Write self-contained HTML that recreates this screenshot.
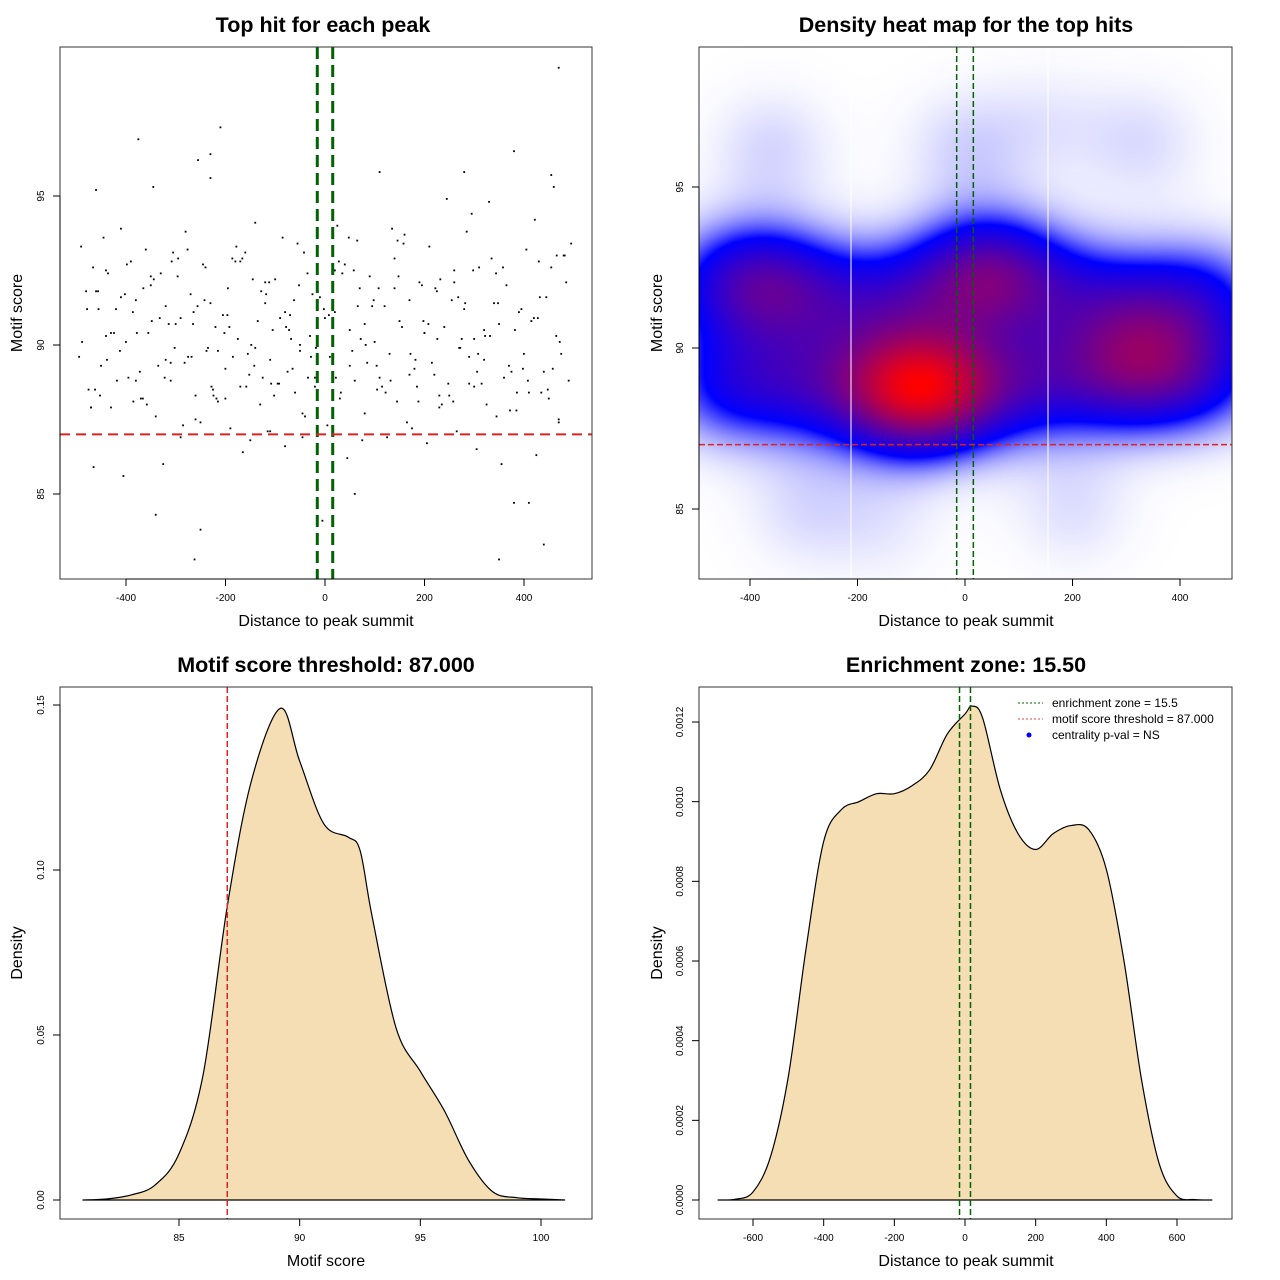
<!DOCTYPE html>
<html><head><meta charset="utf-8">
<style>
html,body{margin:0;padding:0;background:#fff;}
#wrap{position:relative;width:1280px;height:1280px;font-family:"Liberation Sans",sans-serif;}
#heat{position:absolute;left:699px;top:47px;}
svg{position:absolute;left:0;top:0;}
</style></head>
<body>
<div id="wrap">
<canvas id="heat" width="533" height="532"></canvas>
<svg id="svg" width="1280" height="1280" xmlns="http://www.w3.org/2000/svg"></svg>
</div>
<script>
// ---------- data ----------
const scatterX = [-490,-480,-475,-470,-465,-460,-455,-450,-445,-440,-430,-420,-410,-400,-395,-390,-380,-375,-370,-360,-355,-350,-345,-340,-330,-325,-320,-310,-300,-295,-290,-280,-275,-270,-260,-255,-250,-240,-235,-230,-220,-215,-210,-200,-195,-190,-180,-175,-170,-160,-155,-150,-140,-135,-130,-120,-115,-110,-100,-95,-90,-80,-75,-70,-60,-55,-50,-40,-35,-30,-20,-10,-5,5,10,20,25,30,40,45,50,60,65,70,80,85,90,100,105,110,120,125,130,140,145,150,160,165,170,180,185,190,200,205,210,220,225,230,240,245,250,260,265,270,280,285,290,300,305,310,320,325,330,340,345,350,360,365,370,380,385,390,400,405,410,420,425,430,440,445,450,460,465,470,480,485,490,-485,-460,-430,-405,-385,-365,-335,-305,-285,-265,-245,-225,-205,-185,-165,-145,-125,-105,-85,-65,-45,-25,-15,15,35,55,75,95,115,135,155,175,195,215,235,255,275,295,315,335,355,375,395,415,435,455,475,495,-470,-440,-410,-380,-350,-320,-290,-260,-230,-200,-170,-140,-110,-80,-50,-20,20,50,80,110,140,170,200,230,260,290,320,350,380,410,440,470,-262,-230,-340,-250,280,-45,60,455,470,-310,0,300,-120,-215,
-478,-452,-424,-398,-372,-348,-322,-296,-268,-242,-218,-192,-166,-142,-118,-92,-68,-42,-18,8,32,58,82,108,132,158,182,208,232,258,282,308,332,358,382,408,432,458,482,-488,-462,-436,-412,-386,-358,-332,-308,-282,-256,-228,-202,-178,-152,-128,-102,-78,-52,-28,-2,22,48,72,98,122,148,172,198,222,248,272,298,322,348,372,398,422,448,472,-466,-438,-402,-366,-314,-276,-238,-196,-158,-112,-72,-34,28,66,104,146,188,226,268,306,344,386,428,466,-494,-456,-418,-378,-344,-302,-264,-224,-186,-148,-108,-62,-12,38,88,136,184,234,274,318,366,414,462];
const scatterY = [93.3,91.8,88.5,87.9,85.9,95.2,91.2,89.3,93.6,92.5,87.9,91.2,93.9,90.1,88.9,92.8,91.5,96.9,88.2,93.2,90.4,92.0,95.3,87.6,92.4,86.0,91.3,88.8,90.7,92.9,86.9,93.8,89.6,91.7,88.3,96.2,87.4,92.6,89.9,95.6,90.6,88.1,97.3,89.2,91.9,87.2,92.8,90.2,88.6,93.1,89.7,86.8,94.1,90.8,88.0,91.4,87.1,89.5,92.2,88.7,90.9,86.6,89.1,91.0,88.4,93.4,89.8,87.6,92.4,90.3,88.9,91.6,84.1,87.3,89.6,91.1,94.0,88.2,92.7,86.2,90.5,88.8,93.5,91.9,87.7,89.4,92.3,90.1,88.5,95.8,91.3,86.9,89.7,92.9,88.1,90.8,93.7,87.4,91.5,89.2,88.6,92.1,90.4,86.7,93.3,89.0,91.8,87.9,90.6,94.9,88.3,92.5,87.1,89.9,91.2,93.8,88.7,90.2,86.5,92.6,89.5,88.0,94.8,91.4,87.6,90.7,88.9,92.0,89.3,96.5,87.8,91.1,89.7,93.2,88.4,90.9,86.3,92.8,89.1,91.6,88.2,95.3,90.3,87.5,93.0,92.1,88.8,87.0,91.8,90.4,85.6,88.1,91.9,89.3,93.1,87.3,90.7,92.7,88.5,91.0,89.6,86.4,92.2,88.9,90.5,93.6,89.2,87.7,91.7,88.3,90.0,92.4,89.8,86.8,91.3,88.6,93.9,90.6,87.2,92.0,89.4,88.0,91.5,90.2,94.4,88.7,92.9,86.0,89.1,91.2,90.8,88.4,92.6,89.7,93.4,87.9,90.3,91.6,88.8,92.3,89.5,90.9,87.5,91.4,88.2,92.8,89.9,87.1,91.1,90.0,88.6,92.5,89.3,90.7,88.9,91.9,89.0,90.4,88.3,92.1,89.6,90.5,82.8,84.7,84.7,83.3,99.3,82.8,96.4,84.3,83.8,95.8,86.9,85.0,95.7,87.4,
89.4,90.9,88.6,92.1,89.8,91.2,88.3,90.4,92.7,89.1,90.8,88.9,92.3,89.6,91.5,88.2,90.6,92.9,89.3,91.7,88.7,90.2,93.1,89.9,91.0,88.4,92.5,90.0,91.9,88.8,93.4,89.5,90.7,92.2,88.1,91.4,89.7,90.3,92.6,90.5,88.8,91.6,89.2,93.0,90.1,88.5,92.4,89.8,91.1,88.0,90.9,92.8,89.4,91.3,88.6,90.4,93.3,89.0,91.8,88.3,90.6,92.0,89.6,91.2,88.9,93.6,90.2,91.5,88.4,92.3,89.7,90.8,91.9,88.7,89.9,92.5,90.3,91.4,87.8,89.2,94.2,88.5,90.1,92.6,89.5,91.7,88.2,90.7,93.2,89.8,91.0,88.6,92.1,90.5,88.9,92.8,91.3,89.3,93.5,88.1,90.2,91.6,89.1,92.4,88.4,90.9,93.0,89.6,91.8,88.8,90.4,92.2,89.9,91.1,88.3,92.9,90.0,88.7,91.5];
const heatCx = [-480,-400,-320,-240,-160,-80,0,80,160,240,320,400,480,-480,-400,-320,-240,-160,-80,0,80,160,240,320,400,480,-370,-110,-40,40,330,-360,0,330,-300,200,-150,150];
const heatCy = [92.0,92.0,91.8,91.5,91.4,91.7,92.2,92.3,91.9,91.4,91.3,91.5,91.6,88.8,88.9,88.9,88.8,88.7,88.6,88.7,88.9,89.0,89.1,89.2,89.2,89.1,92.0,88.7,88.9,92.2,89.6,96.2,96.2,96.4,85.0,85.0,84.5,97.0];
const heatW  = [0.3,0.32,0.3,0.27,0.27,0.3,0.32,0.32,0.28,0.27,0.28,0.28,0.3,0.3,0.3,0.28,0.32,0.36,0.38,0.35,0.32,0.3,0.3,0.32,0.32,0.3,0.28,0.6,0.4,0.4,0.32,0.17,0.17,0.15,0.14,0.14,0.1,0.1];
const scoreX = [81,82,83,84,85,86,87,88,89.2,90,91,92,92.5,93,94,95,96,97,98,99,100,101];
const scoreD = [0,0.0003,0.0015,0.0045,0.014,0.038,0.089,0.127,0.149,0.133,0.114,0.11,0.106,0.086,0.052,0.039,0.027,0.012,0.0025,0.0007,0.0003,0];
const distX = [-700,-650,-600,-550,-500,-450,-400,-350,-300,-250,-200,-150,-100,-50,0,20,50,100,150,200,250,300,350,400,450,500,550,600,650,700];
const distD = [0,0.000002,0.00002,0.00011,0.00031,0.00063,0.0009,0.00098,0.001,0.00102,0.00102,0.00104,0.00108,0.00117,0.00122,0.00124,0.00121,0.00103,0.00092,0.00088,0.00092,0.00094,0.00093,0.00083,0.0006,0.0003,0.00009,0.00001,0.000001,0];
const xTicks1 = [-400,-200,0,200,400], yTicks1=[85,90,95];
const xTicks3 = [85,90,95,100], yTicks3=[0,0.05,0.10,0.15], yLab3=["0.00","0.05","0.10","0.15"];
const xTicks4 = [-600,-400,-200,0,200,400,600], yTicks4=[0,0.0002,0.0004,0.0006,0.0008,0.0010,0.0012];
const yLab4=["0.0000","0.0002","0.0004","0.0006","0.0008","0.0010","0.0012"];
const ezone = 15.5, thr = 87;

// ---------- helpers ----------
const svg=document.getElementById('svg');
const NS='http://www.w3.org/2000/svg';
function mk(tag,attrs,parent){const e=document.createElementNS(NS,tag);for(const k in attrs)e.setAttribute(k,attrs[k]);(parent||svg).appendChild(e);return e;}
function lin(d0,d1,p0,p1){return v=>p0+(v-d0)*(p1-p0)/(d1-d0);}
function txt(x,y,s,size,opt,parent){const t=mk('text',Object.assign({x:x,y:y,'font-size':size,'text-anchor':'middle',fill:'#000'},opt||{}),parent);t.textContent=s;return t;}
function axes(g,box,xs,xt,xl,ys,yt,yl){
  const r=mk('rect',{x:box[0],y:box[1],width:box[2]-box[0],height:box[3]-box[1],fill:'none',stroke:'#333','stroke-width':1},g);
  
  const xa=mk('g',{},g);
  mk('line',{x1:xs(xt[0]),x2:xs(xt[xt.length-1]),y1:box[3],y2:box[3],stroke:'#000'},xa);
  xt.forEach((v,i)=>{const x=xs(v);mk('line',{x1:x,x2:x,y1:box[3],y2:box[3]+7,stroke:'#000'},xa);txt(x,box[3]+22,xl[i],10,{},xa);});
  const ya=mk('g',{},g);
  mk('line',{x1:box[0],x2:box[0],y1:ys(yt[0]),y2:ys(yt[yt.length-1]),stroke:'#000'},ya);
  yt.forEach((v,i)=>{const y=ys(v);mk('line',{x1:box[0]-7,x2:box[0],y1:y,y2:y,stroke:'#000'},ya);
    txt(box[0]-16,y,yl[i],10,{transform:`rotate(-90 ${box[0]-16} ${y})`},ya);});
}
function smoothPath(pts){let d=`M${pts[0][0]},${pts[0][1]}`;
  for(let i=0;i<pts.length-1;i++){const p0=pts[Math.max(0,i-1)],p1=pts[i],p2=pts[i+1],p3=pts[Math.min(pts.length-1,i+2)];
    d+=` C${p1[0]+(p2[0]-p0[0])/6},${p1[1]+(p2[1]-p0[1])/6} ${p2[0]-(p3[0]-p1[0])/6},${p2[1]-(p3[1]-p1[1])/6} ${p2[0]},${p2[1]}`;}
  return d;}

// ---------- panel 1 ----------
{const g=mk('g',{});
 const box=[60,47,592,579];const xs=lin(0,400,325,524),ys=lin(90,95,345,196);
 const t=txt(323,32,'Top hit for each peak',21.5,{'font-weight':'bold'},g);
 const n=Math.min(scatterX.length,scatterY.length);
 for(let i=0;i<n;i++){const p=mk('rect',{x:xs(scatterX[i])-1,y:ys(scatterY[i])-1,width:1.8,height:1.8,fill:'#000'},g);
   }
 [-ezone,ezone].forEach(v=>{const l=mk('line',{x1:xs(v),x2:xs(v),y1:box[1],y2:box[3],stroke:'#006400','stroke-width':3,'stroke-dasharray':'12,6'},g);
   });
 const rl=mk('line',{x1:box[0],x2:box[2],y1:ys(thr),y2:ys(thr),stroke:'#dd2222','stroke-width':2,'stroke-dasharray':'10,6'},g);
 
 axes(g,box,xs,xTicks1,xTicks1.map(String),ys,yTicks1,yTicks1.map(String));
 txt(326,626,'Distance to peak summit',16,{},g);txt(22,313,'Motif score',16,{transform:'rotate(-90 22 313)'},g);}

// ---------- panel 2 ----------
{const g=mk('g',{});
 const box=[699,47,1232,579];const xs=lin(0,400,965,1180),ys=lin(90,95,348,187);
 const c=document.getElementById('heat'),ctx=c.getContext('2d');const W=533,H=532;const img=ctx.createImageData(W,H);
 const sx=85,sy=1.35;const den=new Float32Array(W*H);let mx=0;
 for(let j=0;j<H;j++)for(let i=0;i<W;i++){const dx=(i+699-965)/0.5375,dy=90-(j+47-348)/32.2;let d=0;
   for(let k=0;k<heatCx.length;k++){const a=(dx-heatCx[k])/sx,b=(dy-heatCy[k])/sy;d+=heatW[k]*Math.exp(-0.5*(a*a+b*b));}
   den[j*W+i]=d;if(d>mx)mx=d;}
 for(let p=0;p<W*H;p++){let t=den[p]/mx;let r,gg,b;const th=0.3;
   if(t<th){const f=Math.pow(t/th,1.5);r=255*(1-f);gg=255*(1-f);b=255;}else{const f=Math.min(1,Math.pow((t-th)/(1-th),1.0));r=255*f;gg=0;b=255*(1-f);}
   img.data[p*4]=r;img.data[p*4+1]=gg;img.data[p*4+2]=b;img.data[p*4+3]=255;}
 ctx.putImageData(img,0,0);
 [851,1048].forEach(x=>{const l=mk('line',{x1:x,x2:x,y1:box[1],y2:box[3],stroke:'#fff','stroke-width':1},g);});
 const t=txt(966,32,'Density heat map for the top hits',21.5,{'font-weight':'bold'},g);
 [-ezone,ezone].forEach(v=>{const l=mk('line',{x1:xs(v),x2:xs(v),y1:box[1],y2:box[3],stroke:'#006400','stroke-width':1.5,'stroke-dasharray':'6,3'},g);
   });
 const rl=mk('line',{x1:box[0],x2:box[2],y1:ys(thr),y2:ys(thr),stroke:'#dd2222','stroke-width':1.5,'stroke-dasharray':'6,3'},g);
 
 axes(g,box,xs,xTicks1,xTicks1.map(String),ys,yTicks1,yTicks1.map(String));
 txt(966,626,'Distance to peak summit',16,{},g);txt(662,313,'Motif score',16,{transform:'rotate(-90 662 313)'},g);}

// ---------- panel 3 ----------
{const g=mk('g',{});
 const box=[60,687,592,1219];const xs=lin(85,100,179,541),ys=lin(0,0.15,1200,705);
 const t=txt(326,672,'Motif score threshold: 87.000',21.5,{'font-weight':'bold'},g);
 const pts=scoreX.map((v,i)=>[xs(v),ys(scoreD[i])]);
 const a=mk('path',{d:smoothPath(pts)+'Z',fill:'#F5DEB3',stroke:'#000','stroke-width':1.2},g);
 const rl=mk('line',{x1:xs(thr),x2:xs(thr),y1:box[1],y2:box[3],stroke:'#dd2222','stroke-width':1.5,'stroke-dasharray':'6,3'},g);
 
 axes(g,box,xs,xTicks3,xTicks3.map(String),ys,yTicks3,yLab3);
 txt(326,1266,'Motif score',16,{},g);txt(22,953,'Density',16,{transform:'rotate(-90 22 953)'},g);}

// ---------- panel 4 ----------
{const g=mk('g',{});
 const box=[699,687,1232,1219];const xs=lin(0,600,965,1177),ys=lin(0,0.0012,1200,722);
 const t=txt(966,672,'Enrichment zone: 15.50',21.5,{'font-weight':'bold'},g);
 const pts=distX.map((v,i)=>[xs(v),ys(distD[i])]);
 const a=mk('path',{d:smoothPath(pts)+'Z',fill:'#F5DEB3',stroke:'#000','stroke-width':1.2},g);
 [-ezone,ezone].forEach(v=>{const l=mk('line',{x1:xs(v),x2:xs(v),y1:box[1],y2:box[3],stroke:'#006400','stroke-width':1.5,'stroke-dasharray':'6,3'},g);
   });
 axes(g,box,xs,xTicks4,xTicks4.map(String),ys,yTicks4,yLab4);
 txt(966,1266,'Distance to peak summit',16,{},g);txt(662,953,'Density',16,{transform:'rotate(-90 662 953)'},g);
 const lg=mk('g',{},g);
 const items=[['enrichment zone = 15.5','#006400','line'],['motif score threshold = 87.000','#e04040','line'],['centrality p-val = NS','#0000ff','dot']];
 items.forEach((it,i)=>{const y=703+i*16;const e=mk('g',{},lg);
   if(it[2]=='line')mk('line',{x1:1018,x2:1043,y1:y,y2:y,stroke:it[1],'stroke-width':1,'stroke-dasharray':'2,2'},e);
   else mk('circle',{cx:1029,cy:y,r:2.5,fill:it[1]},e);
   txt(1052,y+4,it[0],12,{'text-anchor':'start'},e);});}
</script>
</body></html>
